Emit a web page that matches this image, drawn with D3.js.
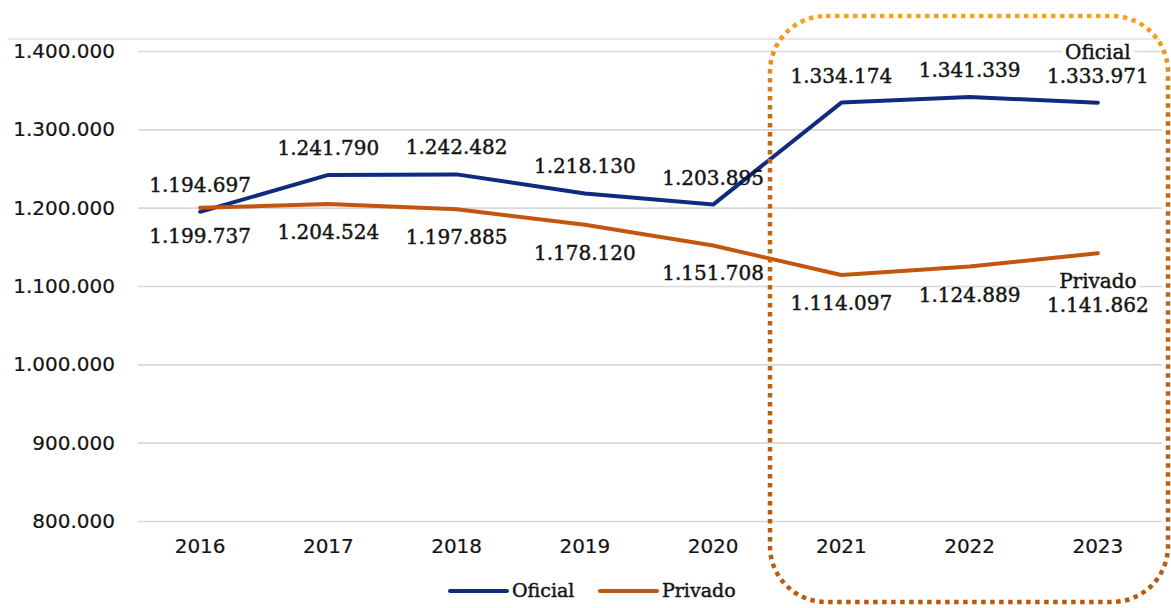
<!DOCTYPE html>
<html>
<head>
<meta charset="utf-8">
<script src="https://cdn.jsdelivr.net/npm/d3@7"></script>
<style>
  html, body { margin: 0; padding: 0; background: #fff; }
  svg { display: block; }
  text { paint-order: stroke; }
</style>
</head>
<body>
<svg id="chart" width="1171" height="608"></svg>
<script>
// Years on the horizontal axis
const years = ["2016", "2017", "2018", "2019", "2020", "2021", "2022", "2023"];
// Enrolment per sector
const oficial = [1194697, 1241790, 1242482, 1218130, 1203895, 1334174, 1341339, 1333971];
const privado = [1199737, 1204524, 1197885, 1178120, 1151708, 1114097, 1124889, 1141862];
// Vertical axis ticks
const yTicks = [800000, 900000, 1000000, 1100000, 1200000, 1300000, 1400000];
const seriesNames = ["Oficial", "Privado"];

const colors = { Oficial: "#0e2b7e", Privado: "#c2560f" };
const ink = "#141414";

const svg = d3.select("#chart");

const es = d3.formatLocale({ decimal: ",", thousands: ".", grouping: [3], currency: ["", ""] });
const fmt = es.format(",d");

const x = d3.scaleBand().domain(years).range([136, 1162]);
const y = d3.scaleLinear().domain([800000, 1400000]).range([521, 51]);
const cx = d => x(d) + x.bandwidth() / 2;

// Top frame edge
svg.append("line")
  .attr("x1", 8).attr("x2", 1160).attr("y1", 39).attr("y2", 39)
  .attr("stroke", "#d0d0d0").attr("stroke-width", 1.2);

// Gridlines + y labels
const yAxis = d3.axisLeft(y).tickValues(yTicks).tickSize(-(1162 - 138)).tickPadding(23).tickFormat(fmt);
const gy = svg.append("g").attr("transform", "translate(138,0)").call(yAxis);
gy.select(".domain").remove();
gy.selectAll(".tick line").attr("stroke", "#d9d9d9").attr("stroke-width", 1.6);
gy.selectAll(".tick text")
  .attr("font-family", "DejaVu Sans, Verdana, sans-serif")
  .attr("font-size", 20).attr("fill", ink)
  .attr("stroke", ink).attr("stroke-width", 0.2);

// X axis labels
const xAxis = d3.axisBottom(x).tickSize(0).tickPadding(0);
const gx = svg.append("g").attr("transform", "translate(0,538)").call(xAxis);
gx.select(".domain").remove();
gx.selectAll(".tick text")
  .attr("font-family", "DejaVu Sans, Verdana, sans-serif")
  .attr("font-size", 20).attr("fill", ink)
  .attr("stroke", ink).attr("stroke-width", 0.2)
  .attr("dy", "0.73em");

// Lines
const line = d3.line().x((d, i) => cx(years[i])).y(d => y(d));
[["Oficial", oficial], ["Privado", privado]].forEach(([name, vals]) => {
  svg.append("path")
    .datum(vals)
    .attr("fill", "none")
    .attr("stroke", colors[name])
    .attr("stroke-width", 4)
    .attr("stroke-linejoin", "round")
    .attr("stroke-linecap", "round")
    .attr("d", line);
});

// Value labels: Oficial above the points, Privado below
const labelFont = "DejaVu Serif, Cambria, serif";
const lab = svg.append("g")
  .attr("font-family", labelFont).attr("font-size", 20)
  .attr("fill", ink).attr("text-anchor", "middle");

function valueText(xPos, yPos, str) {
  return lab.append("text").attr("x", xPos).attr("y", yPos)
    .attr("stroke", ink).attr("stroke-width", 0.45).text(str);
}

oficial.forEach((v, i) => valueText(cx(years[i]), y(v) - 20, fmt(v)));
privado.forEach((v, i) => {
  const last = i === privado.length - 1;
  valueText(cx(years[i]), y(v) + (last ? 59 : 35), fmt(v));
});

// Series names next to the last points, with a white backing over the gridlines
function seriesTag(name, xPos, yPos) {
  const t = valueText(xPos, yPos, name);
  const b = t.node().getBBox();
  lab.insert("rect", () => t.node())
    .attr("x", b.x - 3).attr("y", b.y + 2).attr("width", b.width + 6).attr("height", b.height - 4)
    .attr("fill", "#fff");
}
const lastYear = years[years.length - 1];
seriesTag("Oficial", cx(lastYear), y(oficial[oficial.length - 1]) - 44);
seriesTag("Privado", cx(lastYear), y(privado[privado.length - 1]) + 35);

// Legend
const legend = svg.append("g").attr("font-family", labelFont).attr("font-size", 19).attr("fill", ink);
const legendX = [450, 600];
seriesNames.forEach((name, i) => {
  legend.append("line")
    .attr("x1", legendX[i]).attr("x2", legendX[i] + 57)
    .attr("y1", 591).attr("y2", 591)
    .attr("stroke", colors[name]).attr("stroke-width", 4).attr("stroke-linecap", "round");
  legend.append("text").attr("x", legendX[i] + 62).attr("y", 597)
    .attr("stroke", ink).attr("stroke-width", 0.45).text(name);
});

// Dotted highlight around 2021–2023
const defs = svg.append("defs");
const grad = defs.append("linearGradient").attr("id", "boxGrad")
  .attr("x1", 0).attr("y1", 0).attr("x2", 0).attr("y2", 1);
grad.append("stop").attr("offset", "0%").attr("stop-color", "#f8a21f");
grad.append("stop").attr("offset", "6%").attr("stop-color", "#ef951b");
grad.append("stop").attr("offset", "18%").attr("stop-color", "#c9680f");
grad.append("stop").attr("offset", "100%").attr("stop-color", "#b8590c");

svg.append("rect")
  .attr("x", 770).attr("y", 16).attr("width", 398).attr("height", 586)
  .attr("rx", 56).attr("ry", 56)
  .attr("fill", "none")
  .attr("stroke", "url(#boxGrad)")
  .attr("stroke-width", 4.5)
  .attr("stroke-dasharray", "4.5 4.5");
</script>
</body>
</html>
